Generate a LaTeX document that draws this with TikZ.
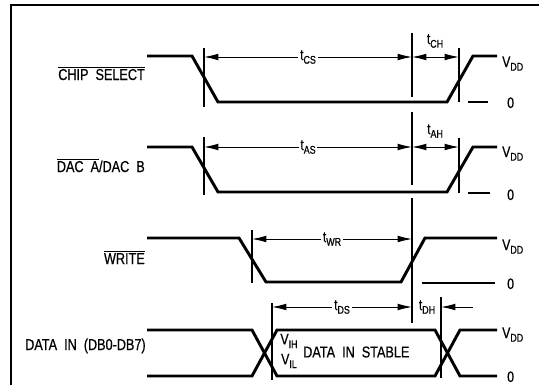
\documentclass[tikz,border=0pt]{standalone}
\usepackage{fontspec}
\setmainfont[FakeStretch=0.8, FakeBold=0.6]{Liberation Sans}
\usetikzlibrary{arrows.meta}
\newcommand\lsub[1]{\raisebox{-0.45ex}{\fontsize{9.5}{10}\selectfont #1}}
\tikzstyle{frame} = [line width=1pt]
\tikzstyle{wave} = [line width=2.5pt, line join=miter]
\tikzstyle{guide} = [line width=0.9pt]
\tikzstyle{dim} = [{Latex[length=4.3mm,width=2mm]}-{Latex[length=4.3mm,width=2mm]}, line width=0.8pt]
\tikzstyle{arr} = [-{Latex[length=4.3mm,width=2mm]}, line width=0.8pt]
\tikzstyle{tlab} = [fill=white, inner sep=1.5pt, font=\fontsize{13}{15}\selectfont]
\tikzstyle{sig} = [anchor=base east, inner sep=0pt, font=\fontsize{13.5}{15}\selectfont]
\tikzstyle{lvl} = [anchor=base west, inner sep=0pt, font=\fontsize{13}{15}\selectfont]

\begin{document}
\begin{tikzpicture}[x=0.3mm, y=-0.3mm]
  \useasboundingbox (0,0) rectangle (539,385);
  \draw[frame] (11,385) -- (11,5) -- (539,5);

  % Signal names
  \node[sig] (cs) at (145,80) {$\overline{\mbox{CHIP\ \ SELECT}}$};
  \node[sig] (dac) at (145,172) {$\overline{\mbox{DAC\ \ A}}$/DAC\ \ B};
  \node[sig] (wr) at (145,264) {$\overline{\mbox{WRITE}}$};
  \node[sig, anchor=base west] (din) at (25,350) {DATA\ \ IN\ \ (DB0-DB7)};

  % Levels
  \node[lvl] (vdd1) at (502,67) {V\lsub{DD}};
  \node[lvl] (zero1) at (507,108) {0};
  \node[lvl] (vdd2) at (502,157) {V\lsub{DD}};
  \node[lvl] (zero2) at (507,200) {0};
  \node[lvl] (vdd3) at (502,250) {V\lsub{DD}};
  \node[lvl] (zero3) at (507,289) {0};
  \node[lvl] (vdd4) at (502,338) {V\lsub{DD}};
  \node[lvl] (zero4) at (507,382) {0};
  \draw[guide, line width=1.4pt] (468,102) -- (488,102);
  \draw[guide, line width=1.4pt] (468,193) -- (490,193);
  \draw[guide] (422,283) -- (495,283);

  % Waveforms
  \draw[wave] (147,56) -- (192,56) -- (218,102) -- (447,102) -- (473,56) -- (497,56);
  \draw[wave] (147,147) -- (192,147) -- (218,192) -- (447,192) -- (473,147) -- (497,147);
  \draw[wave] (147,238) -- (239,238) -- (266,282) -- (401,282) -- (425,238) -- (497,238);
  \draw[wave] (147,330) -- (252,330) -- (277,376) -- (435,376) -- (460,330) -- (497,330);
  \draw[wave] (147,376) -- (252,376) -- (277,330) -- (435,330) -- (460,376) -- (497,376);
  \node[inner sep=0pt, font=\fontsize{13}{15}\selectfont] (vih) at (289,341) {V\lsub{IH}};
  \node[inner sep=0pt, font=\fontsize{13}{15}\selectfont] (vil) at (289,361) {V\lsub{IL}};
  \node[anchor=west, inner sep=0pt, font=\fontsize{13.5}{15}\selectfont] (stable) at (303,352) {DATA\ \ IN\ \ STABLE};

  % Guide lines
  \draw[guide] (204,48) -- (204,107);
  \draw[guide] (204,137) -- (204,195);
  \draw[guide] (412,33) -- (412,97);
  \draw[guide] (412,112) -- (412,185);
  \draw[guide] (412,198) -- (412,323);
  \draw[guide] (459,48) -- (459,102);
  \draw[guide] (459,138) -- (459,193);
  \draw[guide] (252,230) -- (252,283);
  \draw[guide] (272,303) -- (272,380);
  \draw[guide] (441,297) -- (441,378);

  % Timing arrows
  \coordinate (csA) at (204,57);
  \coordinate (csB) at (412,57);
  \coordinate (csC) at (459,57);
  \coordinate (asA) at (204,147);
  \coordinate (asB) at (412,147);
  \coordinate (asC) at (459,147);
  \coordinate (wrA) at (252,239);
  \coordinate (wrB) at (412,239);
  \coordinate (dsA) at (272,307);
  \coordinate (dsB) at (412,307);
  \coordinate (dhA) at (441,307);
  \coordinate (dhB) at (473,307);
  \draw[dim] (csA) -- node[tlab] (tcs) {t\lsub{CS}} (csB);
  \draw[dim] (csB) -- (csC);
  \node[tlab] (tch) at (435,41) {t\lsub{CH}};
  \draw[dim] (asA) -- node[tlab] (tas) {t\lsub{AS}} (asB);
  \draw[dim] (asB) -- (asC);
  \node[tlab] (tah) at (435,131) {t\lsub{AH}};
  \draw[dim] (wrA) -- node[tlab] (twr) {t\lsub{WR}} (wrB);
  \draw[dim] (dsA) -- node[tlab] (tds) {t\lsub{DS}} (dsB);
  \node[tlab] (tdh) at (427,307) {t\lsub{DH}};
  \draw[arr] (dhB) -- (dhA);
\end{tikzpicture}
\end{document}
